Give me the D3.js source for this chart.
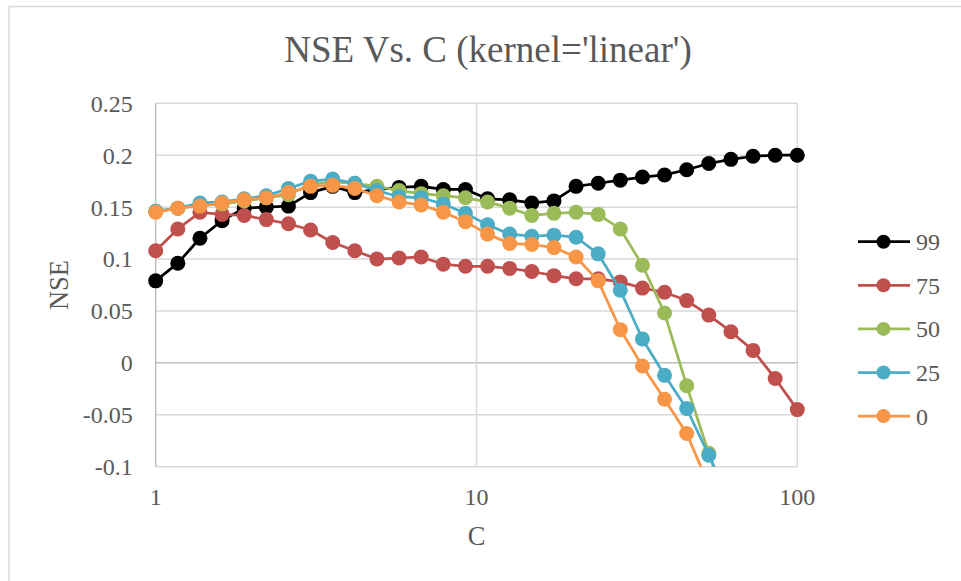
<!DOCTYPE html>
<html>
<head>
<meta charset="utf-8">
<script src="https://d3js.org/d3.v7.min.js"></script>
<style>
  body { margin: 0; background: #fff; }
  text { font-family: "Liberation Serif", "DejaVu Serif", serif; fill: #595959; }
</style>
</head>
<body>
<div id="chart"></div>
<script>
// 1: DATA
const cValues = [1, 1.1721, 1.3738, 1.6103, 1.8874, 2.2122, 2.5929, 3.0392, 3.5622, 4.1753,
    4.8939, 5.7362, 6.7234, 7.8805, 9.2367, 10.8264, 12.6896, 14.8735, 17.4333, 20.4336,
    23.9503, 28.0722, 32.9034, 38.5662, 45.2035, 52.9832, 62.1017, 72.7895, 85.3168, 100];

const nse99 = [0.079, 0.096, 0.120, 0.137, 0.149, 0.150, 0.151, 0.164, 0.170, 0.164,
    0.167, 0.169, 0.170, 0.167, 0.167, 0.158, 0.157, 0.154, 0.156, 0.170,
    0.173, 0.176, 0.179, 0.181, 0.186, 0.192, 0.196, 0.199, 0.200, 0.200];
const nse75 = [0.108, 0.129, 0.145, 0.143, 0.142, 0.138, 0.134, 0.128, 0.116, 0.108,
    0.100, 0.101, 0.102, 0.095, 0.093, 0.093, 0.091, 0.088, 0.084, 0.081,
    0.081, 0.078, 0.072, 0.068, 0.060, 0.046, 0.030, 0.012, -0.015, -0.045];
const nse50 = [0.146, 0.149, 0.152, 0.153, 0.156, 0.159, 0.162, 0.172, 0.174, 0.173,
    0.170, 0.166, 0.163, 0.161, 0.159, 0.155, 0.149, 0.142, 0.144, 0.145,
    0.143, 0.129, 0.094, 0.048, -0.022, -0.087, -0.148, null, null, null];
const nse25 = [0.146, 0.149, 0.154, 0.155, 0.158, 0.161, 0.168, 0.175, 0.177, 0.173,
    0.166, 0.160, 0.159, 0.153, 0.144, 0.133, 0.124, 0.122, 0.123, 0.121,
    0.105, 0.070, 0.023, -0.012, -0.044, -0.089, -0.135, null, null, null];
const nse0 = [0.145, 0.149, 0.151, 0.154, 0.157, 0.159, 0.164, 0.170, 0.171, 0.168,
    0.161, 0.155, 0.152, 0.145, 0.136, 0.124, 0.115, 0.114, 0.111, 0.102,
    0.079, 0.032, -0.003, -0.035, -0.068, -0.118, null, null, null, null];

const seriesNames = ["99", "75", "50", "25", "0"];
const seriesColors = ["#000000", "#C0504D", "#9BBB59", "#4BACC6", "#F79646"];
const seriesValues = [nse99, nse75, nse50, nse25, nse0];

const xTicks = [1, 10, 100];
const yTicks = [-0.1, -0.05, 0, 0.05, 0.1, 0.15, 0.2, 0.25];
const yTickLabels = ["-0.1", "-0.05", "0", "0.05", "0.1", "0.15", "0.2", "0.25"];

// 2: LAYOUT
const W = 961, H = 581;
const margin = { top: 103.3, right: 163.7, bottom: 114.3, left: 155.7 };
const width = W - margin.left - margin.right;
const height = H - margin.top - margin.bottom;

const svg = d3.select("#chart")
    .append("svg")
    .attr("width", W)
    .attr("height", H);

// chart border
svg.append("rect")
    .attr("x", 9).attr("y", 6.5)
    .attr("width", W + 20).attr("height", H + 20)
    .attr("fill", "none")
    .attr("stroke", "#d9d9d9")
    .attr("stroke-width", 1.5);

const g = svg.append("g")
    .attr("transform", `translate(${margin.left},${margin.top})`);

// 3: SCALES
const xScale = d3.scaleLog().domain([1, 100]).range([0, width]);
const yScale = d3.scaleLinear().domain([-0.1, 0.25]).range([height, 0]);

// 4: GRIDLINES
g.selectAll(".hgrid")
    .data(yTicks)
    .enter().append("line")
    .attr("x1", 0).attr("x2", width)
    .attr("y1", d => yScale(d)).attr("y2", d => yScale(d))
    .attr("stroke", d => d === 0 ? "#bfbfbf" : "#d9d9d9")
    .attr("stroke-width", 1.5);

g.selectAll(".vgrid")
    .data(xTicks.slice(1))
    .enter().append("line")
    .attr("x1", d => xScale(d)).attr("x2", d => xScale(d))
    .attr("y1", 0).attr("y2", height)
    .attr("stroke", "#d9d9d9")
    .attr("stroke-width", 1.5);

// y axis line
g.append("line")
    .attr("x1", 0).attr("x2", 0)
    .attr("y1", 0).attr("y2", height)
    .attr("stroke", "#bfbfbf")
    .attr("stroke-width", 1.5);

// 5: TICK LABELS
g.selectAll(".ylab")
    .data(yTicks)
    .enter().append("text")
    .attr("x", -23)
    .attr("y", d => yScale(d))
    .attr("dy", "0.35em")
    .attr("text-anchor", "end")
    .style("font-size", "24px")
    .text((d, i) => yTickLabels[i]);

g.selectAll(".xlab")
    .data(xTicks)
    .enter().append("text")
    .attr("x", d => xScale(d))
    .attr("y", height + 38.5)
    .attr("text-anchor", "middle")
    .style("font-size", "24px")
    .text(d => d);

// 6: TITLES
svg.append("text")
    .attr("x", 488)
    .attr("y", 61.7)
    .attr("text-anchor", "middle")
    .style("font-size", "37px")
    .text("NSE Vs. C (kernel='linear')");

g.append("text")
    .attr("x", width / 2)
    .attr("y", height + 78.5)
    .attr("text-anchor", "middle")
    .style("font-size", "26.5px")
    .text("C");

svg.append("text")
    .attr("transform", `translate(68, ${margin.top + height / 2}) rotate(-90)`)
    .attr("text-anchor", "middle")
    .style("font-size", "26.5px")
    .text("NSE");

// 7: SERIES
g.append("clipPath").attr("id", "plotClip")
    .append("rect")
    .attr("x", -20).attr("y", -20)
    .attr("width", width + 40).attr("height", height + 20);

const line = d3.line()
    .defined(d => d.v !== null)
    .x(d => xScale(d.c))
    .y(d => yScale(d.v));

const plot = g.append("g").attr("clip-path", "url(#plotClip)");

seriesValues.forEach((vals, si) => {
    const pts = cValues.map((c, i) => ({ c: c, v: vals[i] }));
    plot.append("path")
        .datum(pts)
        .attr("fill", "none")
        .attr("stroke", seriesColors[si])
        .attr("stroke-width", 2.75)
        .attr("stroke-linejoin", "round")
        .attr("d", line);
    plot.selectAll(null)
        .data(pts.filter(d => d.v !== null && d.v >= -0.1))
        .enter().append("circle")
        .attr("cx", d => xScale(d.c))
        .attr("cy", d => yScale(d.v))
        .attr("r", 7.5)
        .attr("fill", seriesColors[si]);
});

// 8: LEGEND
const legend = svg.append("g").attr("transform", "translate(858, 241.7)");
seriesNames.forEach((name, i) => {
    const row = legend.append("g").attr("transform", `translate(0, ${i * 43.6})`);
    row.append("line")
        .attr("x1", 0).attr("x2", 52)
        .attr("stroke", seriesColors[i])
        .attr("stroke-width", 2.75);
    row.append("circle")
        .attr("cx", 25.5).attr("r", 7)
        .attr("fill", seriesColors[i]);
    row.append("text")
        .attr("x", 58)
        .attr("dy", "0.35em")
        .style("font-size", "24px")
        .text(name);
});
</script>
</body>
</html>
